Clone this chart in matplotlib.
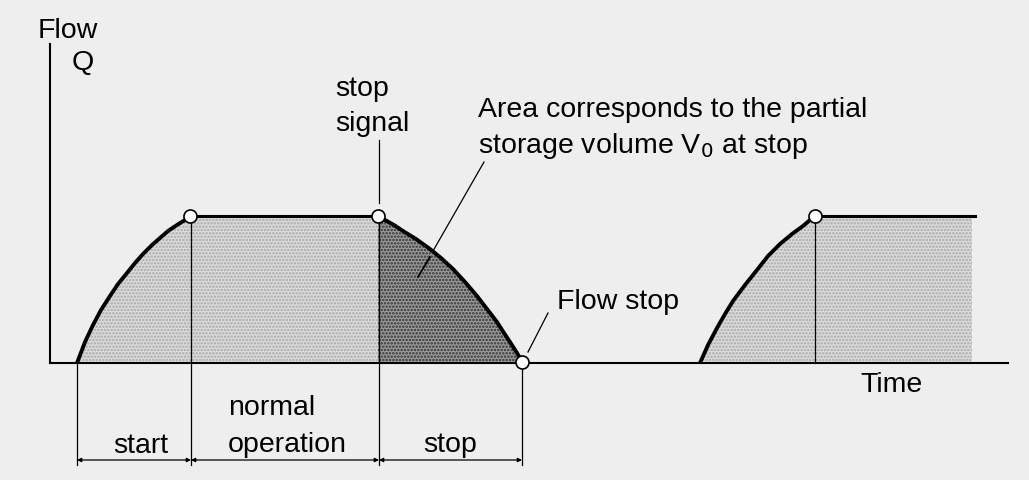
import matplotlib
matplotlib.use('Agg')
import matplotlib.pyplot as plt

plt.rcParams['font.family'] = ['Liberation Sans', 'DejaVu Sans']
plt.rcParams['hatch.linewidth'] = 1.2

# picture rows of the baseline (Q = 0) and of the full-flow level (Q = 1)
ROW0, ROW1 = 363, 216


def row(r):
    return (ROW0 - r) / (ROW0 - ROW1)


# start ramp (time, picture row of the curve)
start_t = [77, 85, 93, 101, 110, 118, 127, 135, 143, 152, 160, 168, 177, 185, 190]
start_r = [363, 342, 325, 310, 296, 284, 273, 263, 254, 245, 238, 231, 225, 220, 216]

# normal operation
run_t = [190, 378]
run_r = [216, 216]

# stop curve
stop_t = [378, 385, 394, 403, 416, 430, 441, 453, 465, 477, 487, 497, 504, 510, 517, 522]
stop_r = [216, 220, 225, 231, 239, 249, 258, 269, 282, 296, 309, 322, 333, 342, 353, 362]

# restart
restart_t = [700, 708, 717, 725, 733, 745, 757, 768, 780, 792, 803, 810, 815]
restart_r = [363, 345, 328, 314, 301, 285, 270, 256, 244, 234, 226, 220, 216]
rerun_t = [815, 975]
rerun_r = [216, 216]
fill_end = 972

start_q = [row(r) for r in start_r]
run_q = [row(r) for r in run_r]
stop_q = [row(r) for r in stop_r]
restart_q = [row(r) for r in restart_r]
rerun_q = [row(r) for r in rerun_r]

# phase boundaries for the dimension line
phase_t = [77, 191, 379, 522]
phase_labels = ['start', 'normal\noperation', 'stop']

t_axis = 50
t_end = 1008

bg = '#eeeeee'
fig = plt.figure(figsize=(10.29, 4.8), dpi=100, facecolor=bg)
ax = fig.add_axes([0, 0, 1, 1])
ax.set_facecolor(bg)
ax.set_xlim(0, 1029)
ax.set_ylim(row(480), row(0))
ax.axis('off')

fs = 20.5

# shaded areas
light_t = start_t + run_t[1:]
light_q = start_q + run_q[1:]
ax.fill_between(light_t, 0, light_q, facecolor='#dcdcdc', edgecolor='#a8a8a8',
                hatch='.....', linewidth=0, zorder=1)
ax.fill_between(stop_t, 0, stop_q, facecolor='#9a9a9a', edgecolor='#303030',
                hatch='.....', linewidth=0, zorder=1)
ax.fill_between(restart_t + [fill_end], 0, restart_q + [1.0], facecolor='#dcdcdc',
                edgecolor='#a8a8a8', hatch='.....', linewidth=0, zorder=1)

# axes
ax.plot([t_axis, t_axis], [row(44), 0], color='k', lw=1.5, zorder=3)
ax.plot([t_axis, t_end], [0, 0], color='k', lw=1.5, zorder=3)

# curves
ax.plot(start_t, start_q, color='k', lw=2.8, zorder=4, solid_capstyle='butt')
ax.plot(run_t, run_q, color='k', lw=2.2, zorder=4)
ax.plot(stop_t, stop_q, color='k', lw=2.8, zorder=4, solid_capstyle='butt')
ax.plot(restart_t, restart_q, color='k', lw=2.8, zorder=4, solid_capstyle='butt')
ax.plot(rerun_t, rerun_q, color='k', lw=2.2, zorder=4)

# thin vertical lines
ax.plot([phase_t[0], phase_t[0]], [0, row(465)], color='k', lw=0.9, zorder=3)
ax.plot([phase_t[1], phase_t[1]], [1, row(465)], color='k', lw=0.9, zorder=3)
ax.plot([phase_t[2], phase_t[2]], [1, row(465)], color='k', lw=0.9, zorder=3)
ax.plot([phase_t[3], phase_t[3]], [0, row(465)], color='k', lw=0.9, zorder=3)
ax.plot([restart_t[-1], restart_t[-1]], [0, 1], color='k', lw=0.9, zorder=3)

# dimension line
for a, b in zip(phase_t[:-1], phase_t[1:]):
    ax.annotate('', xy=(b, row(460)), xytext=(a, row(460)),
                arrowprops=dict(arrowstyle='<|-|>', color='k', lw=0.9,
                                mutation_scale=6, shrinkA=0, shrinkB=0))

# circles
ax.plot([start_t[-1], stop_t[0], stop_t[-1], restart_t[-1]],
        [start_q[-1], stop_q[0], stop_q[-1], restart_q[-1]],
        'o', ms=9.4, mfc='white', mec='k', mew=1.2, zorder=6)

# leader lines
ax.plot([379, 379], [row(140), row(203)], color='k', lw=0.9)
ax.plot([484, 433], [row(162), row(251)], color='k', lw=0.9, zorder=5)
ax.plot([430, 418], [row(257), row(277)], color='k', lw=1.3, zorder=5)
ax.plot([548, 528], [row(313), row(352)], color='k', lw=0.9, zorder=5)

# texts
ax.text(38, row(38), 'Flow', fontsize=fs, va='baseline')
ax.text(72, row(70), 'Q', fontsize=fs, va='baseline')
ax.text(335, row(96), 'stop', fontsize=fs, va='baseline')
ax.text(335, row(131), 'signal', fontsize=fs, va='baseline')
ax.text(478, row(117), 'Area corresponds to the partial', fontsize=fs, va='baseline')
ax.text(478, row(153), 'storage volume V$_0$ at stop', fontsize=fs, va='baseline')
ax.text(557, row(309), 'Flow stop', fontsize=fs, va='baseline')
ax.text(860, row(392), 'Time', fontsize=fs, va='baseline')
ax.text(113, row(453), phase_labels[0], fontsize=fs, va='baseline')
ax.text(228, row(415), 'normal', fontsize=fs, va='baseline')
ax.text(228, row(452), 'operation', fontsize=fs, va='baseline')
ax.text(423, row(452), phase_labels[2], fontsize=fs, va='baseline')

fig.savefig('out.png', dpi=100, facecolor=bg)
